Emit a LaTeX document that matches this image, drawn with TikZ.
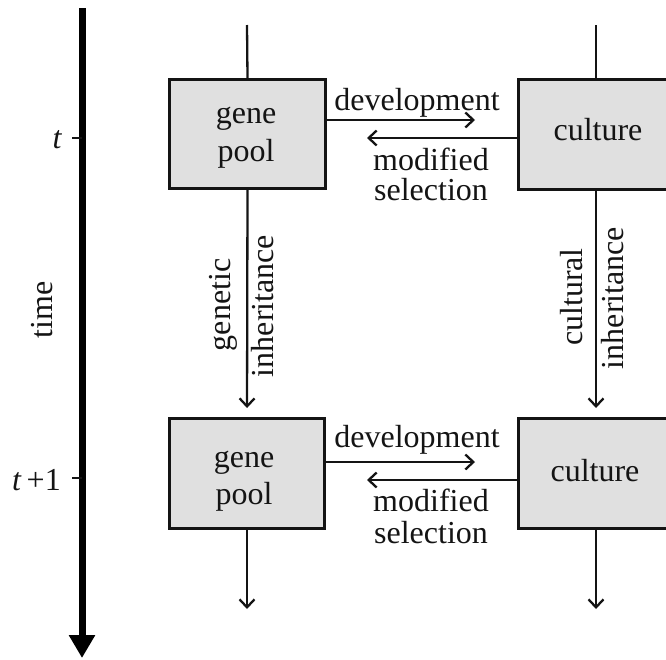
\documentclass[tikz,border=0pt]{standalone}
\usepackage{fontspec}
\setmainfont{Liberation Serif}
\usetikzlibrary{arrows.meta}

\definecolor{boxfill}{HTML}{E0E0E0}
\definecolor{ink}{HTML}{141414}

\tikzset{
  stock/.style={draw=ink, fill=boxfill, line width=2.6pt, inner sep=0pt},
  conn/.style={draw=ink, line width=2.3pt},
  flow/.style={conn, -{Straight Barb[length=8pt,width=15pt,line width=2.3pt]}},
  word/.style={font=\fontsize{32}{38}\selectfont, text=ink, inner sep=0pt, anchor=base},
  upword/.style={word, rotate=90},
}

\begin{document}
\begin{tikzpicture}[x=1pt, y=-1pt]
\useasboundingbox (0,0) rectangle (666,659);
\clip (0,0) rectangle (666,659);

% time axis
\coordinate (tstart) at (82,8);
\coordinate (tend) at (82,658);
\draw[draw=black, line width=7pt, -{Triangle[width=25pt,length=23pt]}] (tstart) -- (tend);
\coordinate (tk1) at (82,138);
\coordinate (tk2) at (82,478);
\draw[conn] (tk1) -- ++(-10,0);
\draw[conn] (tk2) -- ++(-10,0);
\node[word] (lt1) at (57.5,148) {\textit{t}};
\node[word] (lt2) at (36.5,490.5) {\textit{t}\hspace{5pt}+1};
\node[upword] (ltime) at (52,310) {time};

% generation t
\node[stock, minimum width=156.4pt, minimum height=109.4pt] (gp1) at (247.5,134) {};
\node[stock, minimum width=155.4pt, minimum height=110.4pt] (cu1) at (596,134.5) {};
% generation t+1
\node[stock, minimum width=155.4pt, minimum height=110.4pt] (gp2) at (247,473.5) {};
\node[stock, minimum width=155.4pt, minimum height=110.4pt] (cu2) at (596,473.5) {};

% box labels
\node[word] (g1a) at (246,123) {gene};
\node[word] (g1b) at (246,161) {pool};
\node[word] (c1) at (598,140) {culture};
\node[word] (g2a) at (244,467) {gene};
\node[word] (g2b) at (244,504) {pool};
\node[word] (c2) at (595,481.5) {culture};

% lineage lines
\coordinate (in1) at (247,25);
\coordinate (in2) at (596,25);
\coordinate (out1) at (247,609);
\coordinate (out2) at (596,609);
\draw[conn] (in1) -- (gp1.north);
\draw[conn] (in2) -- (cu1.north);
\draw[flow, shorten >=9pt] (gp1.south) -- (gp2.north);
\draw[flow, shorten >=9pt] (cu1.south) -- (cu2.north);
\draw[flow] (gp2.south) -- (out1);
\draw[flow] (cu2.south) -- (out2);

% development / modified selection, generation t
\coordinate (d1) at (475,120);
\coordinate (s1) at (367,138);
\draw[flow] (gp1.east |- d1) -- (d1);
\draw[flow] (cu1.west |- s1) -- (s1);
\node[word] (dev1) at (417,110) {development};
\node[word] (mod1) at (431,170) {modified};
\node[word] (sel1) at (431,200) {selection};

% development / modified selection, generation t+1
\coordinate (d2) at (475,462);
\coordinate (s2) at (367,480);
\draw[flow] (gp2.east |- d2) -- (d2);
\draw[flow] (cu2.west |- s2) -- (s2);
\node[word] (dev2) at (417,447) {development};
\node[word] (mod2) at (431,511.5) {modified};
\node[word] (sel2) at (431,543) {selection};

% inheritance labels
\node[upword] (gen) at (230,305) {genetic};
\node[upword] (inh1) at (273,306) {inheritance};
\node[upword] (cul) at (582,297) {cultural};
\node[upword] (inh2) at (623,298) {inheritance};
\end{tikzpicture}
\end{document}
